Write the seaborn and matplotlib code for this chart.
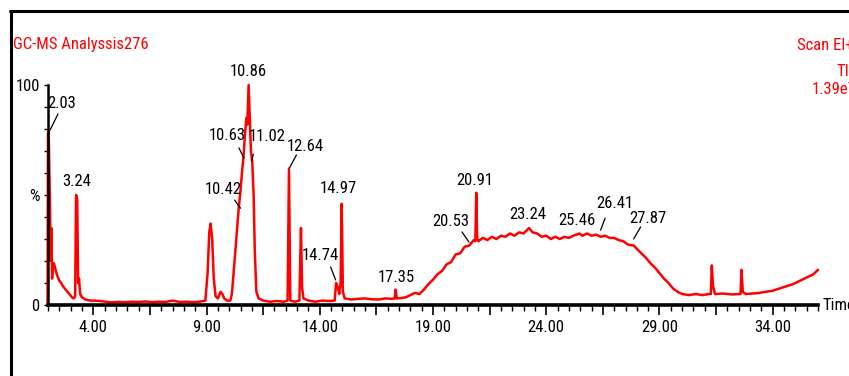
import numpy as np
import pandas as pd
import seaborn as sns
import matplotlib.pyplot as plt
from matplotlib.lines import Line2D

# retention time (min) and relative abundance (%)
time = [1.98, 2.00, 2.03, 2.06, 2.09, 2.12, 2.15, 2.18, 2.21, 2.26, 2.31, 2.36, 2.42,
        2.50, 2.58, 2.66, 2.74, 2.82, 2.90, 2.98, 3.06, 3.14, 3.20, 3.24, 3.29, 3.33,
        3.37, 3.42, 3.50, 3.65, 3.85, 4.05, 4.30, 4.55, 4.80, 5.10, 5.40, 5.70, 6.00,
        6.30, 6.60, 6.90, 7.20, 7.50, 7.80, 8.10, 8.40, 8.70, 8.95, 9.05, 9.12, 9.18,
        9.25, 9.32, 9.40, 9.50, 9.62, 9.70, 9.78, 9.90, 10.05, 10.12, 10.20, 10.30,
        10.42, 10.50, 10.58, 10.63, 10.70, 10.76, 10.80, 10.86, 10.90, 10.96, 11.02,
        11.08, 11.13, 11.20, 11.30, 11.50, 11.80, 12.10, 12.40, 12.58, 12.64, 12.70,
        12.90, 13.10, 13.17, 13.22, 13.28, 13.50, 13.80, 14.10, 14.40, 14.66, 14.72,
        14.80, 14.86, 14.92, 14.97, 15.02, 15.10, 15.40, 15.70, 16.00, 16.30, 16.60,
        16.90, 17.20, 17.31, 17.35, 17.40, 17.60, 17.80,
        18.0, 18.2, 18.4, 18.6, 18.8, 19.0, 19.2, 19.4, 19.6, 19.8, 20.0, 20.2, 20.4,
        20.6, 20.8, 20.87, 20.91, 20.95, 21.0, 21.2, 21.4, 21.6, 21.8, 22.0, 22.2,
        22.4, 22.6, 22.8, 23.0, 23.24, 23.4, 23.6, 23.8, 24.0, 24.2, 24.4, 24.6, 24.8,
        25.0, 25.2, 25.46, 25.6, 25.8, 26.0, 26.2, 26.41, 26.6, 26.8, 27.0, 27.2, 27.4,
        27.6, 27.87, 28.0, 28.2, 28.4, 28.6, 28.8, 29.0, 29.2, 29.4, 29.6, 29.8, 30.0,
        30.3, 30.6, 30.9, 31.2, 31.27, 31.31, 31.36, 31.45, 31.8, 32.2, 32.52, 32.58,
        32.62, 32.68, 32.8, 33.1, 33.4, 33.7, 34.0, 34.3, 34.6, 34.9, 35.2, 35.5,
        35.8, 36.0]
abundance = [0, 78, 79, 62, 43, 20, 35, 12, 17, 19, 17, 15, 13,
             11, 10, 8.5, 7.5, 6.5, 5.5, 4.5, 3.5, 3, 4, 50, 48, 10,
             12, 5, 3.5, 2.5, 2, 2, 1.8, 1.5, 1.2, 1.4, 1.3, 1.5, 1.4,
             1.6, 1.3, 1.5, 1.4, 2.0, 1.4, 1.5, 1.3, 1.5, 2, 15, 33, 37,
             30, 12, 4, 3, 6, 5, 3, 2, 2, 5, 15, 28,
             44, 52, 62, 67, 78, 85, 82, 100, 88, 70, 65,
             50, 25, 6, 3, 2, 1.5, 1.8, 1.5, 2, 62, 2,
             1.5, 2, 35, 8, 3, 2, 1.5, 2, 1.8, 2, 10,
             8, 5, 10, 46, 6, 3, 2.5, 2.8, 3, 2.6, 2.5,
             3, 2.8, 3, 7, 3, 3.2, 3.5,
             4.5, 5.5, 5.0, 7.0, 9.5, 11.5, 14.0, 15.5, 18.5, 19.5, 23.0, 23.5, 26.5,
             27.0, 29.5, 29.0, 51, 30.5, 29.0, 30.5, 29.5, 31.0, 30.0, 31.5, 31.0,
             32.5, 31.5, 33.0, 32.5, 35.0, 33.0, 32.5, 31.0, 31.5, 30.0, 31.0, 30.0, 31.0,
             30.5, 31.5, 32.5, 31.5, 32.5, 31.5, 32.0, 31.0, 31.5, 30.5, 30.5, 29.5, 29.0,
             27.5, 27.0, 25.5, 23.5, 21.5, 19.0, 17.0, 14.5, 12.0, 10.0, 7.5, 6.0, 5.0,
             4.5, 5.0, 4.5, 5.0, 5.0, 18, 9, 5, 5.2, 4.8, 5, 5,
             16, 6, 5, 5.2, 5.5, 6, 6.5, 7.5, 8.5, 9.5, 11, 12.5,
             14, 16]

# labelled peaks: label, peak position, label position
peak_labels = ["2.03", "3.24", "10.42", "10.63", "10.86", "11.02", "12.64", "14.74",
               "14.97", "17.35", "20.53", "20.91", "23.24", "25.46", "26.41", "27.87"]
label_x = [2.62, 3.25, 9.73, 9.90, 10.83, 11.67, 13.34, 14.03,
           14.84, 17.37, 19.80, 20.85, 23.19, 25.34, 27.04, 28.48]
label_y = [91.8, 56, 52.3, 77, 106, 76.4, 72, 22.7,
           53, 12.7, 38, 56.8, 41, 38.6, 46, 39.5]
# leader lines (from label to trace)
leaders = {"2.03": ((2.44, 86.8), (2.09, 79.5)),
           "10.42": ((10.24, 47.7), (10.50, 44.0)),
           "10.63": ((10.43, 71.4), (10.65, 66.8)),
           "11.02": ((11.07, 68.5), (10.99, 65.5)),
           "12.64": ((12.97, 68.2), (12.66, 62.3)),
           "14.74": ((14.48, 17.3), (14.70, 11.4)),
           "20.53": ((20.28, 33.2), (20.59, 28.6)),
           "26.41": ((26.60, 39.5), (26.40, 34.0)),
           "27.87": ((28.17, 35.5), (27.86, 30.0))}

xtick_pos = [4, 6.5, 9, 11.5, 14, 16.5, 19, 21.5, 24, 26.5, 29, 31.5, 34]
xtick_labels = ["4.00", "", "9.00", "", "14.00", "", "19.00", "", "24.00", "",
                "29.00", "", "34.00"]
ytick_pos = [0, 50, 100]
ytick_labels = ["0", "%", "100"]

sns.set_theme(style="white")
plt.rcParams['font.family'] = ['Roboto Condensed', 'DejaVu Sans']
fs = 12

df = pd.DataFrame({"Time": time, "Abundance": abundance})

fig = plt.figure(figsize=(8.49, 3.76), dpi=100)
ax = fig.add_axes([48 / 849, 1 - 305 / 376, 770 / 849, 220 / 376])
sns.lineplot(data=df, x="Time", y="Abundance", ax=ax, color="#ff0000",
             linewidth=1.8, estimator=None, sort=False)
for l in ax.lines:
    l.set_clip_on(False)

ax.set_xlim(2, 36)
ax.set_ylim(0, 100)
ax.set_xlabel("")
ax.set_ylabel("")
sns.despine(ax=ax)
ax.spines["bottom"].set_linewidth(2.6)
ax.spines["left"].set_linewidth(1.8)
ax.spines["bottom"].set_color("black")
ax.spines["left"].set_color("black")

ax.set_xticks(xtick_pos, xtick_labels)
ax.set_xticks(np.arange(2, 36.01, 0.5), minor=True)
ax.set_yticks(ytick_pos, ytick_labels)
ax.set_yticks(np.arange(0, 101, 10), minor=True)
ax.tick_params(axis="x", which="major", direction="out", length=7, width=1.2,
               colors="black", labelsize=fs, pad=4, bottom=True)
ax.tick_params(axis="x", which="minor", direction="out", length=4, width=1.0,
               colors="black", bottom=True)
ax.tick_params(axis="y", which="both", direction="out", length=3, width=1.0,
               colors="black", labelsize=fs, pad=3, left=True)

ax.text(1.006, 0, "Time", transform=ax.transAxes, ha="left", va="center",
        fontsize=fs, color="black")

for lab, lx, ly in zip(peak_labels, label_x, label_y):
    ax.text(lx, ly, lab, ha="center", va="center", fontsize=fs, color="black",
            clip_on=False)
    if lab in leaders:
        (x0, y0), (x1, y1) = leaders[lab]
        ax.plot([x0, x1], [y0, y1], color="black", linewidth=0.9, clip_on=False)

# header texts
fig.text(13 / 849, 1 - 45 / 376, "GC-MS Analyssis276", color="#ff0000",
         fontsize=fs, ha="left", va="center")
fig.text(797 / 849, 1 - 45 / 376, "Scan EI+", color="#ff0000",
         fontsize=fs, ha="left", va="center")
fig.text(836 / 849, 1 - 71 / 376, "TIC", color="#ff0000",
         fontsize=fs, ha="left", va="center")
fig.text(812 / 849, 1 - 89 / 376, "1.39e7", color="#ff0000",
         fontsize=fs, ha="left", va="center")

# frame around the figure (cut by the image edge at right and bottom)
fig.add_artist(Line2D([11 / 849, 11 / 849], [0, 1 - 11 / 376],
                      transform=fig.transFigure, color="black", linewidth=2.2))
fig.add_artist(Line2D([10 / 849, 1], [1 - 11 / 376, 1 - 11 / 376],
                      transform=fig.transFigure, color="black", linewidth=2.2))

fig.savefig("out.png", dpi=100)
